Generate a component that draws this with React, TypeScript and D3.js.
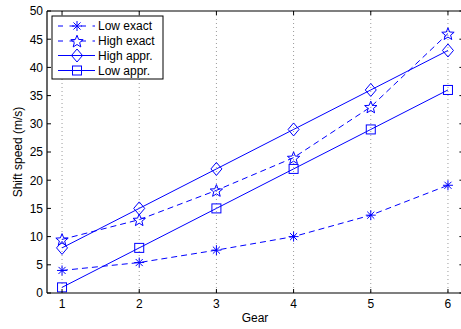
import React from "react";
import * as d3 from "d3";

const gears = [1, 2, 3, 4, 5, 6];
const lowExact = [4, 5.4, 7.6, 10, 13.8, 19.1];
const highExact = [9.5, 13, 18.2, 24, 33, 46];
const highAppr = [8, 15, 22, 29, 36, 43];
const lowAppr = [1, 8, 15, 22, 29, 36];
const yTicks = [0, 5, 10, 15, 20, 25, 30, 35, 40, 45, 50];
const seriesNames = ["Low exact", "High exact", "High appr.", "Low appr."];

const W = 461, H = 329;
const BLUE = "#0000ff";
const FONT = "Liberation Sans, Arial, sans-serif";

function Marker({ type, x, y }: { type: string; x: number; y: number }) {
  if (type === "asterisk") {
    const r = 5;
    const d = r * 0.707;
    return (
      <g stroke={BLUE} strokeWidth={1}>
        <line x1={x - r} y1={y} x2={x + r} y2={y} />
        <line x1={x} y1={y - r} x2={x} y2={y + r} />
        <line x1={x - d} y1={y - d} x2={x + d} y2={y + d} />
        <line x1={x - d} y1={y + d} x2={x + d} y2={y - d} />
      </g>
    );
  }
  if (type === "star") {
    const ro = 6.5, ri = 2.8;
    const pts: string[] = [];
    for (let i = 0; i < 10; i++) {
      const a = -Math.PI / 2 + (i * Math.PI) / 5;
      const r = i % 2 === 0 ? ro : ri;
      pts.push(`${x + r * Math.cos(a)},${y + r * Math.sin(a) + 0.7}`);
    }
    return <polygon points={pts.join(" ")} fill="none" stroke={BLUE} strokeWidth={1} />;
  }
  if (type === "diamond") {
    const rx = 5.5, ry = 6.5;
    return (
      <polygon
        points={`${x},${y - ry} ${x + rx},${y} ${x},${y + ry} ${x - rx},${y}`}
        fill="none" stroke={BLUE} strokeWidth={1}
      />
    );
  }
  return <rect x={x - 4.5} y={y - 4.5} width={9} height={9} fill="none" stroke={BLUE} strokeWidth={1} />;
}

export default function App() {
  const left = 47, top = 11, bottom = 293;
  const x = d3.scaleLinear().domain([0.8, 6.2]).range([46.6, 463.4]);
  const y = d3.scaleLinear().domain([0, 50]).range([bottom, top]);
  const right = x(6.2);

  const series = [
    { name: seriesNames[0], data: lowExact, dash: "6,4", marker: "asterisk" },
    { name: seriesNames[1], data: highExact, dash: "6,4", marker: "star" },
    { name: seriesNames[2], data: highAppr, dash: undefined, marker: "diamond" },
    { name: seriesNames[3], data: lowAppr, dash: undefined, marker: "square" },
  ];

  const line = d3
    .line<number>()
    .x((_, i) => x(gears[i]))
    .y((d) => y(d));

  const legX = 52, legY = 16, legW = 111, legH = 63;
  const rowY = [26, 41, 55.5, 70.5];

  return (
    <svg width={W} height={H} style={{ position: "absolute", left: 0, top: 0, background: "#fff" }} fontFamily={FONT}>
      <rect x={0} y={0} width={W} height={H} fill="#fff" />
      {/* grid */}
      {gears.map((g) => (
        <line key={"g" + g} x1={x(g)} x2={x(g)} y1={top} y2={bottom} stroke="#9a9a9a" strokeWidth={1} strokeDasharray="1,3" />
      ))}
      {/* series */}
      {series.map((s) => (
        <g key={s.name}>
          <path d={line(s.data) || ""} fill="none" stroke={BLUE} strokeWidth={1} strokeDasharray={s.dash} />
          {s.data.map((v, i) => (
            <Marker key={i} type={s.marker} x={x(gears[i])} y={y(v)} />
          ))}
        </g>
      ))}
      {/* axes box */}
      <line x1={left} x2={right} y1={bottom} y2={bottom} stroke="#000" strokeWidth={1.2} />
      <line x1={left} x2={right} y1={top} y2={top} stroke="#000" strokeWidth={1.2} />
      <line x1={left} x2={left} y1={top} y2={bottom} stroke="#000" strokeWidth={1.2} />
      <line x1={right} x2={right} y1={top} y2={bottom} stroke="#000" strokeWidth={1.2} />
      {gears.map((g) => (
        <g key={"xt" + g}>
          <line x1={x(g)} x2={x(g)} y1={bottom} y2={bottom - 4} stroke="#000" />
          <line x1={x(g)} x2={x(g)} y1={top} y2={top + 4} stroke="#000" />
          <text x={x(g)} y={308} textAnchor="middle" fontSize={12} fill="#000">{g}</text>
        </g>
      ))}
      {yTicks.map((t) => (
        <g key={"yt" + t}>
          <line x1={left} x2={left + 4} y1={y(t)} y2={y(t)} stroke="#000" />
          <line x1={right} x2={right - 4} y1={y(t)} y2={y(t)} stroke="#000" />
          <text x={43} y={y(t) + 4.3} textAnchor="end" fontSize={12} fill="#000">{t}</text>
        </g>
      ))}
      <text x={255} y={322} textAnchor="middle" fontSize={12} fill="#000">Gear</text>
      <text transform={`translate(21.5,152) rotate(-90)`} textAnchor="middle" fontSize={12} fill="#000">Shift speed (m/s)</text>
      {/* legend */}
      <rect x={legX} y={legY} width={legW} height={legH} fill="#fff" stroke="#000" strokeWidth={1} />
      {series.map((s, i) => (
        <g key={"leg" + i}>
          <line x1={58} x2={95} y1={rowY[i]} y2={rowY[i]} stroke={BLUE} strokeWidth={1} strokeDasharray={s.dash ? "5,6.5" : undefined} />
          <Marker type={s.marker} x={77} y={rowY[i]} />
          <text x={98} y={rowY[i] + 4.3} fontSize={12} fill="#000">{s.name}</text>
        </g>
      ))}
    </svg>
  );
}
